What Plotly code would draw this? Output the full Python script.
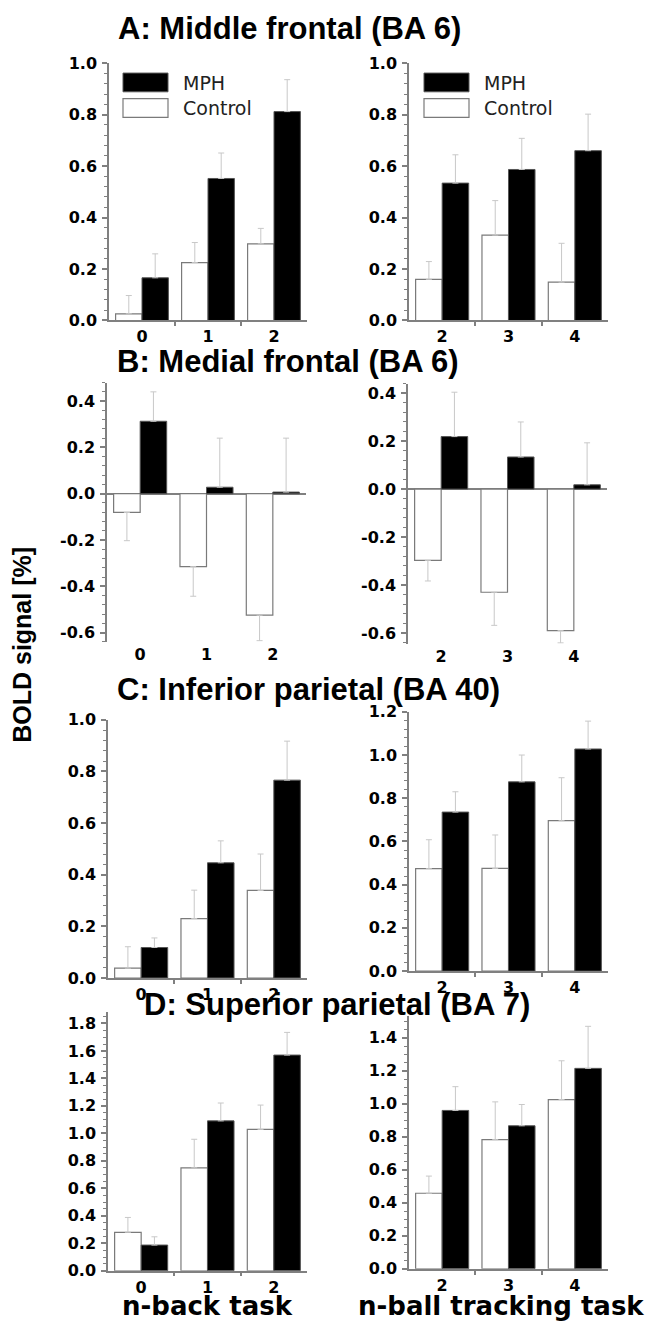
import plotly.graph_objects as go
import numpy as np

W, H = 660, 1332

# ---------------- data ----------------
nback_cats = [0, 1, 2]
nball_cats = [2, 3, 4]

A_nback_control = [0.026, 0.225, 0.298]
A_nback_control_err = [0.071, 0.078, 0.060]
A_nback_mph = [0.166, 0.552, 0.812]
A_nback_mph_err = [0.093, 0.099, 0.124]
A_nball_control = [0.160, 0.332, 0.149]
A_nball_control_err = [0.069, 0.134, 0.151]
A_nball_mph = [0.534, 0.587, 0.660]
A_nball_mph_err = [0.110, 0.121, 0.142]

B_nback_control = [-0.081, -0.315, -0.525]
B_nback_control_err = [0.122, 0.128, 0.110]
B_nback_mph = [0.313, 0.028, 0.007]
B_nback_mph_err = [0.127, 0.212, 0.233]
B_nball_control = [-0.297, -0.430, -0.590]
B_nball_control_err = [0.086, 0.138, 0.051]
B_nball_mph = [0.219, 0.134, 0.018]
B_nball_mph_err = [0.185, 0.146, 0.175]

C_nback_control = [0.038, 0.230, 0.339]
C_nback_control_err = [0.083, 0.110, 0.141]
C_nback_mph = [0.118, 0.446, 0.766]
C_nback_mph_err = [0.037, 0.085, 0.151]
C_nball_control = [0.474, 0.475, 0.696]
C_nball_control_err = [0.134, 0.155, 0.199]
C_nball_mph = [0.736, 0.876, 1.028]
C_nball_mph_err = [0.094, 0.124, 0.129]

D_nback_control = [0.280, 0.749, 1.029]
D_nback_control_err = [0.108, 0.208, 0.177]
D_nback_mph = [0.187, 1.091, 1.570]
D_nback_mph_err = [0.060, 0.130, 0.165]
D_nball_control = [0.458, 0.783, 1.026]
D_nball_control_err = [0.104, 0.229, 0.235]
D_nball_mph = [0.960, 0.867, 1.215]
D_nball_mph_err = [0.144, 0.129, 0.255]

panel_titles = ["A: Middle frontal (BA 6)", "B: Medial frontal (BA 6)",
                "C: Inferior parietal (BA 40)", "D: Superior parietal (BA 7)"]
series_names = ["MPH", "Control"]
y_title = "BOLD signal [%]"
x_titles = ["n-back task", "n-ball tracking task"]

# ---------------- layout geometry (page pixels) ----------------
panels = [
    dict(cats=nback_cats, ctrl=A_nback_control, ctrl_e=A_nback_control_err, mph=A_nback_mph, mph_e=A_nback_mph_err,
         px=(109, 307), py=(55, 316), yr=(0, 1.0), minor=0.04, zero_axis=False),
    dict(cats=nball_cats, ctrl=A_nball_control, ctrl_e=A_nball_control_err, mph=A_nball_mph, mph_e=A_nball_mph_err,
         px=(409, 608), py=(55, 316), yr=(0, 1.0), minor=0.04, zero_axis=False),
    dict(cats=nback_cats, ctrl=B_nback_control, ctrl_e=B_nback_control_err, mph=B_nback_mph, mph_e=B_nback_mph_err,
         px=(107, 306), py=(379, 642), yr=(-0.64, 0.48), minor=0.04, zero_axis=True),
    dict(cats=nball_cats, ctrl=B_nball_control, ctrl_e=B_nball_control_err, mph=B_nball_mph, mph_e=B_nball_mph_err,
         px=(408, 607), py=(380, 644), yr=(-0.645, 0.44), minor=0.04, zero_axis=True),
    dict(cats=nback_cats, ctrl=C_nback_control, ctrl_e=C_nback_control_err, mph=C_nback_mph, mph_e=C_nback_mph_err,
         px=(108, 307), py=(721, 983), yr=(0, 1.0), minor=0.04, zero_axis=False),
    dict(cats=nball_cats, ctrl=C_nball_control, ctrl_e=C_nball_control_err, mph=C_nball_mph, mph_e=C_nball_mph_err,
         px=(409, 608), py=(713, 976), yr=(0, 1.2), minor=0.04, zero_axis=False),
    dict(cats=nback_cats, ctrl=D_nback_control, ctrl_e=D_nback_control_err, mph=D_nback_mph, mph_e=D_nback_mph_err,
         px=(108, 307), py=(1018, 1280), yr=(0, 1.88), minor=0.05, zero_axis=False),
    dict(cats=nball_cats, ctrl=D_nball_control, ctrl_e=D_nball_control_err, mph=D_nball_mph, mph_e=D_nball_mph_err,
         px=(409, 608), py=(1022, 1278), yr=(0, 1.53), minor=0.05, zero_axis=False),
]

AXC = "#808080"
ERRC = "#c8c8c8"
TICKFONT = dict(family="DejaVu Sans", size=16, color="black", weight="bold")


def fx(p):
    return p / W


def fy(p):
    return 1 - p / H


def err_dirs(vals, errs):
    plus = [e if v >= 0 else 0 for v, e in zip(vals, errs)]
    minus = [e if v < 0 else 0 for v, e in zip(vals, errs)]
    return plus, minus


fig = go.Figure()
layout = dict()

for i, p in enumerate(panels):
    n = i + 1
    xa = "x" if n == 1 else f"x{n}"
    ya = "y" if n == 1 else f"y{n}"
    xkey = "xaxis" if n == 1 else f"xaxis{n}"
    ykey = "yaxis" if n == 1 else f"yaxis{n}"

    cp, cm = err_dirs(p["ctrl"], p["ctrl_e"])
    mp, mm = err_dirs(p["mph"], p["mph_e"])
    fig.add_trace(go.Bar(
        x=p["cats"], y=p["ctrl"], name=series_names[1], xaxis=xa, yaxis=ya,
        marker=dict(color="white", line=dict(color="#7a7a7a", width=1.2)),
        error_y=dict(type="data", symmetric=False, array=cp, arrayminus=cm,
                     color=ERRC, thickness=1, width=3),
        showlegend=False))
    fig.add_trace(go.Bar(
        x=p["cats"], y=p["mph"], name=series_names[0], xaxis=xa, yaxis=ya,
        marker=dict(color="black", line=dict(color="#555555", width=1)),
        error_y=dict(type="data", symmetric=False, array=mp, arrayminus=mm,
                     color=ERRC, thickness=1, width=3),
        showlegend=False))

    cats = p["cats"]
    xr = [cats[0] - 0.5, cats[-1] + 0.5]
    bounds = [c + 0.5 for c in cats[:-1]]
    layout[xkey] = dict(
        domain=[fx(p["px"][0]), fx(p["px"][1])], anchor=ya, range=xr,
        tickmode="array", tickvals=cats, ticktext=[str(c) for c in cats],
        ticks="", showline=not p["zero_axis"], linecolor=AXC, linewidth=1.5,
        showgrid=False, zeroline=False, tickfont=TICKFONT, ticklabelstandoff=1,
        minor=dict(tickmode="array", tickvals=bounds, ticks="outside" if not p["zero_axis"] else "",
                   ticklen=4, tickcolor=AXC, tickwidth=1.5, showgrid=False),
        fixedrange=True)

    lo, hi = p["yr"]
    start = np.ceil(lo / 0.2 - 1e-9) * 0.2
    tv = np.round(np.arange(start, hi + 1e-9, 0.2), 2)
    layout[ykey] = dict(
        domain=[fy(p["py"][1]), fy(p["py"][0])], anchor=xa, range=[lo, hi],
        tickmode="array", tickvals=list(tv), ticktext=[f"{v:.1f}".replace("-0.0", "0.0") for v in tv],
        ticks="outside", ticklen=5, tickwidth=1.5, tickcolor=AXC,
        showline=True, linecolor=AXC, linewidth=1.5, showgrid=False,
        zeroline=p["zero_axis"], zerolinecolor=AXC, zerolinewidth=1.5,
        tickfont=TICKFONT, ticklabelstandoff=2,
        minor=dict(tickmode="linear", tick0=0, dtick=p["minor"], ticks="outside",
                   ticklen=3, tickcolor=AXC, tickwidth=1, showgrid=False),
        fixedrange=True)

annotations = []
title_pos = [(289, 20), (288, 358), (308, 690), (337, 1010)]
for t, (cx, cy) in zip(panel_titles, title_pos):
    annotations.append(dict(text=t, x=fx(cx), y=fy(cy), xref="paper", yref="paper",
                            xanchor="center", yanchor="middle", showarrow=False,
                            font=dict(family="Liberation Sans", size=31, color="black", weight="bold")))

annotations.append(dict(text=y_title, x=fx(22), y=fy(645), xref="paper", yref="paper",
                        xanchor="center", yanchor="middle", showarrow=False, textangle=-90,
                        font=dict(family="Liberation Sans", size=25, color="black", weight="bold")))

for t, cx in zip(x_titles, [207, 501]):
    annotations.append(dict(text=t, x=fx(cx), y=fy(1316), xref="paper", yref="paper",
                            xanchor="center", yanchor="middle", showarrow=False,
                            font=dict(family="DejaVu Sans", size=26, color="black", weight="bold")))

# custom legends in panel A
shapes = []
for bx, tx in [(123, 181), (424, 482)]:
    shapes.append(dict(type="rect", xref="paper", yref="paper",
                       x0=fx(bx), x1=fx(bx + 45), y0=fy(84), y1=fy(65),
                       fillcolor="black", line=dict(color="#555555", width=1)))
    shapes.append(dict(type="rect", xref="paper", yref="paper",
                       x0=fx(bx), x1=fx(bx + 45), y0=fy(110), y1=fy(91),
                       fillcolor="white", line=dict(color="#7a7a7a", width=1.2)))
    for name, cy in zip(series_names, [75, 100]):
        annotations.append(dict(text=name, x=fx(tx), y=fy(cy), xref="paper", yref="paper",
                                xanchor="left", yanchor="middle", showarrow=False,
                                font=dict(family="DejaVu Sans", size=19, color="#222222")))

fig.update_layout(
    width=W, height=H, margin=dict(l=0, r=0, t=0, b=0),
    paper_bgcolor="white", plot_bgcolor="rgba(0,0,0,0)",
    barmode="group", bargap=0.2, bargroupgap=0,
    showlegend=False, annotations=annotations, shapes=shapes,
    **layout)

fig.write_html("out.html", config={"displayModeBar": False},
               post_script="document.body.style.margin='0';")
